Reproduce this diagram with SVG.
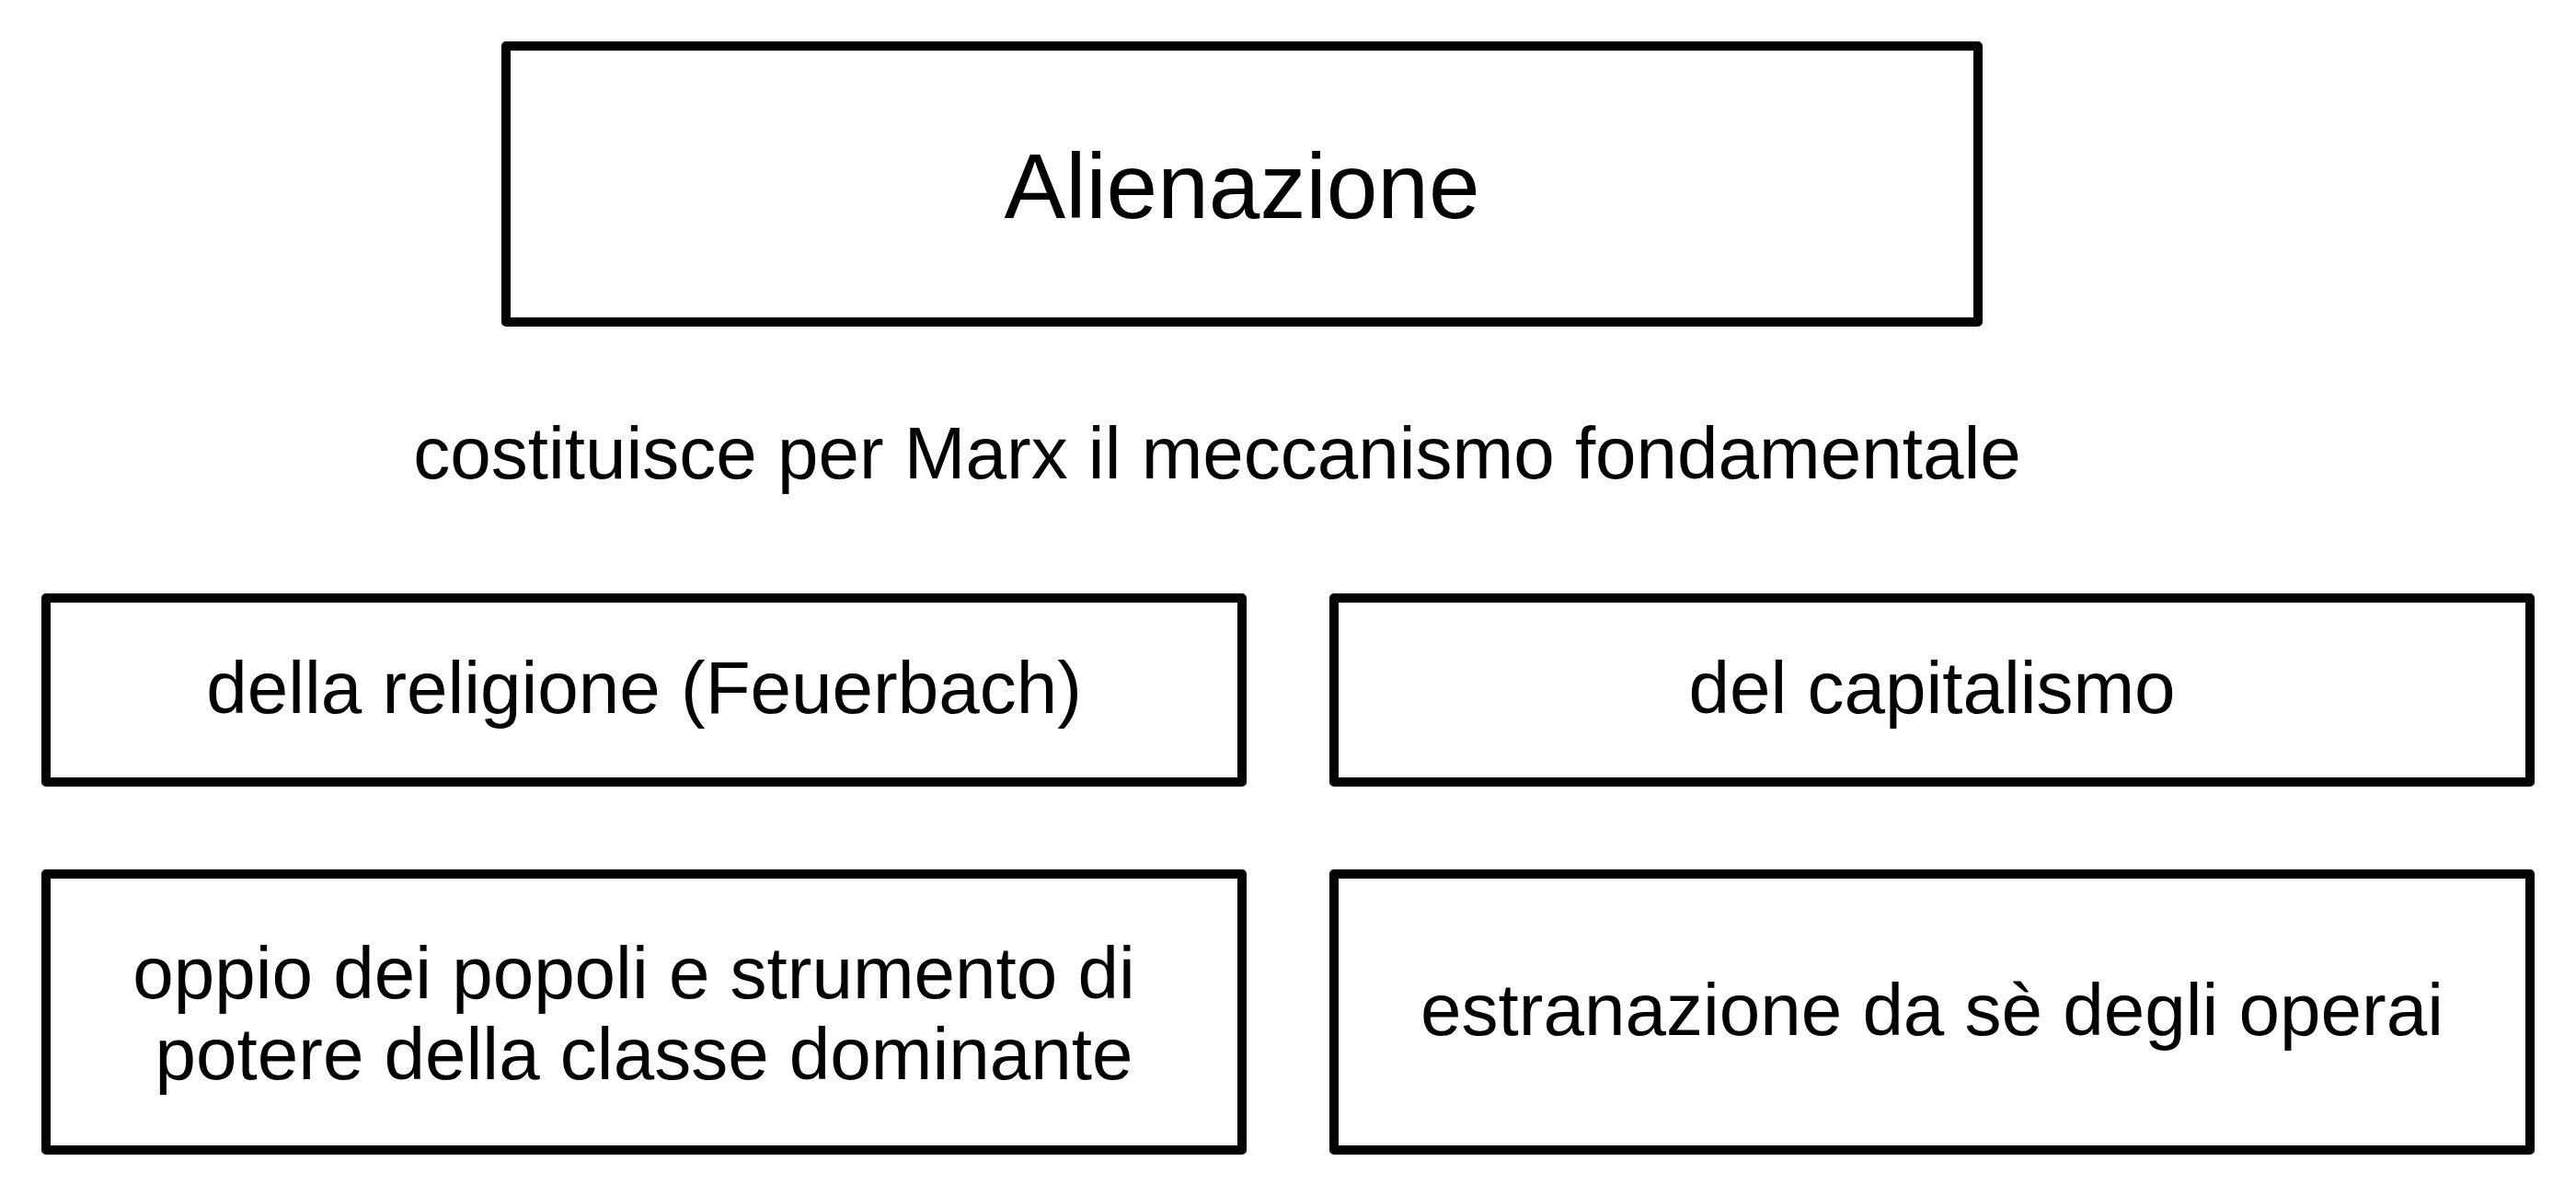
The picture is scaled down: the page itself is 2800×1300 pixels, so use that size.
<svg xmlns="http://www.w3.org/2000/svg" width="2800" height="1300" viewBox="0 0 2800 1300">
  <style>
    .box { fill: #ffffff; stroke: #000000; stroke-width: 10; stroke-linejoin: round; }
    .t { font-family: "Liberation Sans", Arial, sans-serif; font-size: 80px; fill: #000000; text-anchor: middle; }
    .title { font-size: 100px; }
  </style>
  <rect x="0" y="0" width="2800" height="1300" fill="#ffffff"/>
  <g id="alienazione">
    <rect class="box" x="550" y="50" width="1600" height="300"/>
    <text class="t title" x="1350" y="237">Alienazione</text>
  </g>
  <g id="label-costituisce">
    <text class="t" x="1323" y="520">costituisce per Marx il meccanismo fondamentale</text>
  </g>
  <g id="religione">
    <rect class="box" x="50" y="650" width="1300" height="200"/>
    <text class="t" x="700" y="775">della religione (Feuerbach)</text>
  </g>
  <g id="capitalismo">
    <rect class="box" x="1450" y="650" width="1300" height="200"/>
    <text class="t" x="2100" y="775">del capitalismo</text>
  </g>
  <g id="oppio">
    <rect class="box" x="50" y="950" width="1300" height="300"/>
    <text class="t" x="689" y="1085">oppio dei popoli e strumento di</text>
    <text class="t" x="700" y="1173">potere della classe dominante</text>
  </g>
  <g id="estranazione">
    <rect class="box" x="1450" y="950" width="1300" height="300"/>
    <text class="t" x="2100" y="1125">estranazione da sè degli operai</text>
  </g>
  <g id="connectors"></g>
</svg>
